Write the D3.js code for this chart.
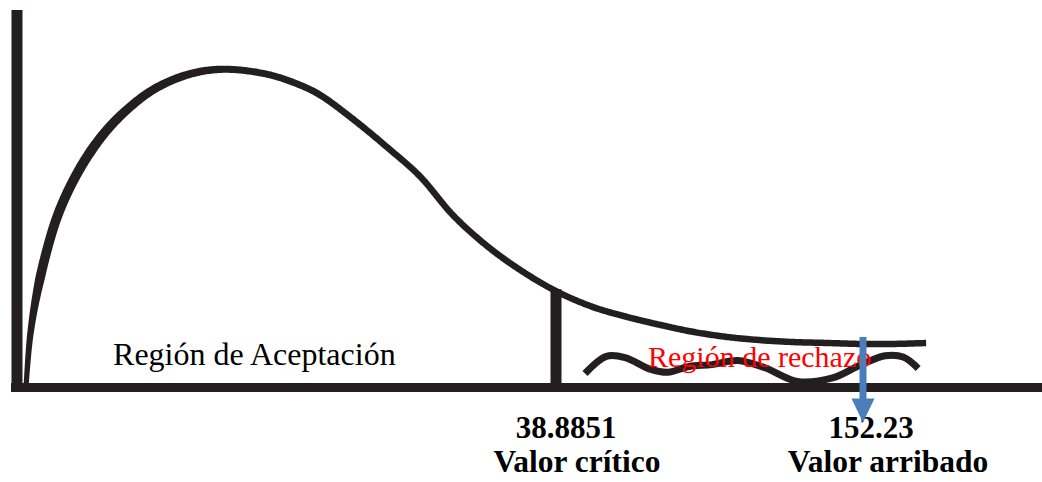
<!DOCTYPE html>
<html>
<head>
<meta charset="utf-8">
<script src="https://cdn.jsdelivr.net/npm/d3@7"></script>
<style>
  body { margin: 0; background: #fff; }
  svg { display: block; }
  text { font-family: "Liberation Serif", "Times New Roman", serif; }
</style>
</head>
<body>
<svg id="chart" width="1042" height="482"></svg>
<script>
// curve (schematic chi-square density)
const curveX = [0.65, 0.94, 1.44, 2.16, 2.89, 3.82, 5.05, 6.49, 8.15, 9.81, 11.76, 13.71, 15.58, 18.25, 20.42, 21.86, 24.24, 26.69, 29.07, 31.45, 33.91, 36.29, 38.89, 52.55, 65.10, 77.29, 89.47, 102.0, 114.2, 126.4, 138.9, 151.1, 163.3, 175.9];
const curveY = [0, 0.159, 0.297, 0.432, 0.536, 0.630, 0.725, 0.810, 0.882, 0.936, 0.976, 0.997, 1.0, 0.983, 0.951, 0.920, 0.844, 0.756, 0.664, 0.542, 0.445, 0.370, 0.303, 0.253, 0.222, 0.197, 0.175, 0.159, 0.149, 0.143, 0.140, 0.137, 0.137, 0.140];

// hand drawn squiggle under "Región de rechazo"
const waveX = [49.6, 57.5, 64.4, 73.6, 80.2, 88.0, 96.5, 106.0, 116.0, 128.0, 141.0, 151.1, 160.3, 167.0, 172.5];
const waveY = [0.044, 0.098, 0.094, 0.058, 0.048, 0.066, 0.072, 0.085, 0.062, 0.019, 0.030, 0.070, 0.100, 0.096, 0.060];

const criticalValue = 38.8851;
const criticalDensity = 0.303;
const observedValue = 152.23;
const observedTop = 0.159;

const markValues = [38.8851, 152.23];
const markLabels = ["38.8851", "152.23"];
const markNames = ["Valor crítico", "Valor arribado"];

const regionLabels = ["Región de Aceptación", "Región de rechazo"];
const regionX = [6.93, 72.85];
const regionY = [0.070, 0.066];

const ink = "#231f20";
const svg = d3.select("#chart");

// schematic axis: not to scale, pinned at the two marked values
const x = d3.scaleLinear()
    .domain([0, criticalValue, observedValue, 218])
    .range([17, 556, 863, 1042]);
const y = d3.scaleLinear().domain([0, 1]).range([387.5, 69.5]);

// axes
svg.append("line")
    .attr("x1", 11).attr("x2", 1042)
    .attr("y1", y(0)).attr("y2", y(0))
    .attr("stroke", ink).attr("stroke-width", 9);
svg.append("line")
    .attr("x1", x(0)).attr("x2", x(0))
    .attr("y1", 10).attr("y2", y(0) + 4.5)
    .attr("stroke", ink).attr("stroke-width", 11);

// curve as a band with varying thickness
const curveData = curveX.map((d, i) => [d, curveY[i]]);
const line = d3.line()
    .x(d => x(d[0])).y(d => y(d[1]))
    .curve(d3.curveCatmullRom.alpha(0.5));

const guide = svg.append("path").attr("d", line(curveData)).attr("fill", "none");
const node = guide.node();
const total = node.getTotalLength();
const thick = d3.scaleLinear()
    .domain([26, 40, 90, 160, 233, 400, 1042])
    .range([5, 9.5, 10, 8.5, 7, 6.5, 6.5]).clamp(true);

let upper = [], lower = [];
for (let s = 0; s <= total; s += 1.5) {
    const p = node.getPointAtLength(s);
    const q = node.getPointAtLength(Math.min(total, s + 0.5));
    const r = node.getPointAtLength(Math.max(0, s - 0.5));
    const dx = q.x - r.x, dy = q.y - r.y;
    const len = Math.hypot(dx, dy) || 1;
    const nx = -dy / len, ny = dx / len;
    const w = thick(p.x) / 2;
    upper.push([p.x + nx * w, p.y + ny * w]);
    lower.push([p.x - nx * w, p.y - ny * w]);
}
guide.remove();
svg.append("path")
    .attr("d", d3.line()(upper.concat(lower.reverse())) + "Z")
    .attr("fill", ink);

// critical value line
svg.append("line")
    .attr("x1", x(criticalValue)).attr("x2", x(criticalValue))
    .attr("y1", y(0)).attr("y2", y(criticalDensity) - 2)
    .attr("stroke", ink).attr("stroke-width", 11);

// squiggle
const waveData = waveX.map((d, i) => [d, waveY[i]]);
svg.append("path")
    .attr("d", line(waveData))
    .attr("fill", "none")
    .attr("stroke", ink)
    .attr("stroke-width", 7)
    .attr("stroke-linecap", "butt");

// region labels
svg.selectAll("text.region")
    .data(regionLabels)
    .join("text")
    .attr("class", "region")
    .attr("x", (d, i) => x(regionX[i]))
    .attr("y", (d, i) => y(regionY[i]))
    .attr("font-size", (d, i) => i === 0 ? 32 : 30)
    .attr("fill", (d, i) => i === 0 ? "#000" : "#ff0000")
    .text(d => d);

// value labels
const valueDx = [10, 8];
const nameDx = [21, 25];
svg.selectAll("text.value")
    .data(markLabels)
    .join("text")
    .attr("class", "value")
    .attr("x", (d, i) => x(markValues[i]) + valueDx[i])
    .attr("y", 438)
    .attr("text-anchor", "middle")
    .attr("font-size", 31)
    .attr("font-weight", "bold")
    .text(d => d);
svg.selectAll("text.name")
    .data(markNames)
    .join("text")
    .attr("class", "name")
    .attr("x", (d, i) => x(markValues[i]) + nameDx[i])
    .attr("y", 472)
    .attr("text-anchor", "middle")
    .attr("font-size", 31.5)
    .attr("font-weight", "bold")
    .text(d => d);

// arrow at the observed value
const ax = x(observedValue);
const tip = y(0) + 35;
svg.append("line")
    .attr("x1", ax).attr("x2", ax)
    .attr("y1", y(observedTop)).attr("y2", tip - 22)
    .attr("stroke", "#4a7ebb").attr("stroke-width", 7);
svg.append("path")
    .attr("d", `M${ax - 11.5},${tip - 24}L${ax + 11.5},${tip - 24}L${ax},${tip}Z`)
    .attr("fill", "#4a7ebb");
</script>
</body>
</html>
